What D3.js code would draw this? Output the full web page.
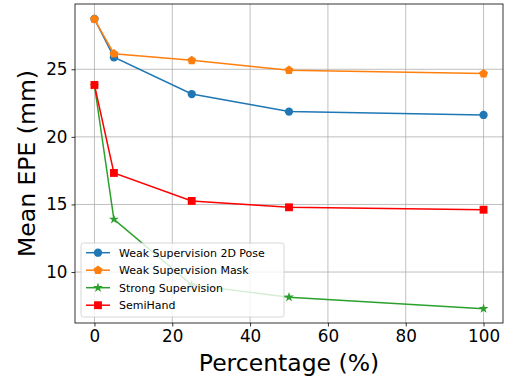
<!DOCTYPE html>
<html>
<head>
<meta charset="utf-8">
<script src="https://cdn.jsdelivr.net/npm/d3@7"></script>
<style>
  body { margin: 0; background: #fff; }
  text { font-family: "DejaVu Sans", sans-serif; fill: #000; }
</style>
</head>
<body>
<svg id="chart" width="505" height="379"></svg>
<script>
// percentages of labelled data
const percentages = [0, 5, 25, 50, 100];
const weak2dPose = [28.72, 25.89, 23.17, 21.87, 21.62];
const weakMask = [28.7, 26.15, 25.66, 24.93, 24.68];
const strongSup = [23.8, 13.9, 9.05, 8.14, 7.29];
const semiHand = [23.84, 17.33, 15.26, 14.79, 14.61];
const seriesNames = ["Weak Supervision 2D Pose", "Weak Supervision Mask", "Strong Supervision", "SemiHand"];
const xTicks = [0, 20, 40, 60, 80, 100];
const yTicks = [10, 15, 20, 25];

const series = [
  { name: seriesNames[0], values: weak2dPose, color: "#1f77b4", marker: "circle" },
  { name: seriesNames[1], values: weakMask, color: "#ff7f0e", marker: "pentagon" },
  { name: seriesNames[2], values: strongSup, color: "#2ca02c", marker: "star" },
  { name: seriesNames[3], values: semiHand, color: "#ff0000", marker: "square" }
];

const margin = { top: 4, right: 2, bottom: 56, left: 75 };
const svg = d3.select("#chart");
const W = 505, H = 379;
const w = W - margin.left - margin.right, h = H - margin.top - margin.bottom;

const x = d3.scaleLinear().domain([-5, 105]).range([margin.left, margin.left + w]);
const y = d3.scaleLinear().domain([6.23, 29.83]).range([margin.top + h, margin.top]);

// grid
const grid = svg.append("g");
grid.selectAll(".gx").data(xTicks).join("line")
  .attr("x1", d => x(d)).attr("x2", d => x(d))
  .attr("y1", margin.top).attr("y2", margin.top + h)
  .attr("stroke", "#b0b0b0").attr("stroke-width", 0.8);
grid.selectAll(".gy").data(yTicks).join("line")
  .attr("x1", margin.left).attr("x2", margin.left + w)
  .attr("y1", d => y(d)).attr("y2", d => y(d))
  .attr("stroke", "#b0b0b0").attr("stroke-width", 0.8);

// axes
const xAxis = svg.append("g")
  .attr("transform", `translate(0,${margin.top + h})`)
  .call(d3.axisBottom(x).tickValues(xTicks).tickSize(3.5).tickPadding(4));
const yAxis = svg.append("g")
  .attr("transform", `translate(${margin.left},0)`)
  .call(d3.axisLeft(y).tickValues(yTicks).tickSize(3.5).tickPadding(4));
[xAxis, yAxis].forEach(a => {
  a.select(".domain").remove();
  a.selectAll("text").style("font-family", "DejaVu Sans").style("font-size", "16.8px").attr("fill", "#000");
  a.selectAll("line").attr("stroke", "#000").attr("stroke-width", 0.8);
});

svg.append("rect")
  .attr("x", margin.left).attr("y", margin.top)
  .attr("width", w).attr("height", h)
  .attr("fill", "none").attr("stroke", "#000").attr("stroke-width", 0.8);

// axis labels
svg.append("text")
  .attr("x", margin.left + w / 2).attr("y", 371)
  .attr("text-anchor", "middle")
  .style("font-size", "23.5px")
  .text("Percentage (%)");
svg.append("text")
  .attr("transform", `translate(35,${margin.top + h / 2}) rotate(-90)`)
  .attr("text-anchor", "middle")
  .style("font-size", "23.5px")
  .text("Mean EPE (mm)");

const symbolFor = {
  circle: d3.symbol().type(d3.symbolCircle).size(54),
  square: d3.symbol().type(d3.symbolSquare).size(62),
  star: d3.symbol().type(d3.symbolStar).size(30),
  pentagon: null
};
function pentagon(r) {
  const pts = d3.range(5).map(i => {
    const a = -Math.PI / 2 + i * 2 * Math.PI / 5;
    return [r * Math.cos(a), r * Math.sin(a)];
  });
  return "M" + pts.join("L") + "Z";
}
function markerPath(m) {
  return m === "pentagon" ? pentagon(4.7) : symbolFor[m]();
}

const line = d3.line().x(d => x(d[0])).y(d => y(d[1]));
const plot = svg.append("g");
series.forEach(s => {
  const pts = percentages.map((p, i) => [p, s.values[i]]);
  const g = plot.append("g");
  g.append("path").datum(pts)
    .attr("d", line).attr("fill", "none")
    .attr("stroke", s.color).attr("stroke-width", 1.5);
  g.selectAll("path.m").data(pts).join("path")
    .attr("class", "m")
    .attr("transform", d => `translate(${x(d[0])},${y(d[1])})`)
    .attr("d", markerPath(s.marker))
    .attr("fill", s.color);
});

// legend
const legend = svg.append("g").attr("transform", "translate(81,243)");
legend.append("rect")
  .attr("width", 203).attr("height", 74).attr("rx", 2.5)
  .attr("fill", "#fff").attr("fill-opacity", 0.8)
  .attr("stroke", "#cccccc").attr("stroke-width", 0.8);
series.forEach((s, i) => {
  const ly = 9.7 + i * 17.5;
  const item = legend.append("g").attr("transform", `translate(0,${ly})`);
  item.append("line").attr("x1", 5).attr("x2", 29).attr("y1", 0).attr("y2", 0)
    .attr("stroke", s.color).attr("stroke-width", 1.5);
  item.append("path").attr("transform", "translate(17,0)")
    .attr("d", markerPath(s.marker)).attr("fill", s.color);
  item.append("text").attr("x", 38).attr("y", 4)
    .style("font-size", "11px").text(s.name);
});
</script>
</body>
</html>
